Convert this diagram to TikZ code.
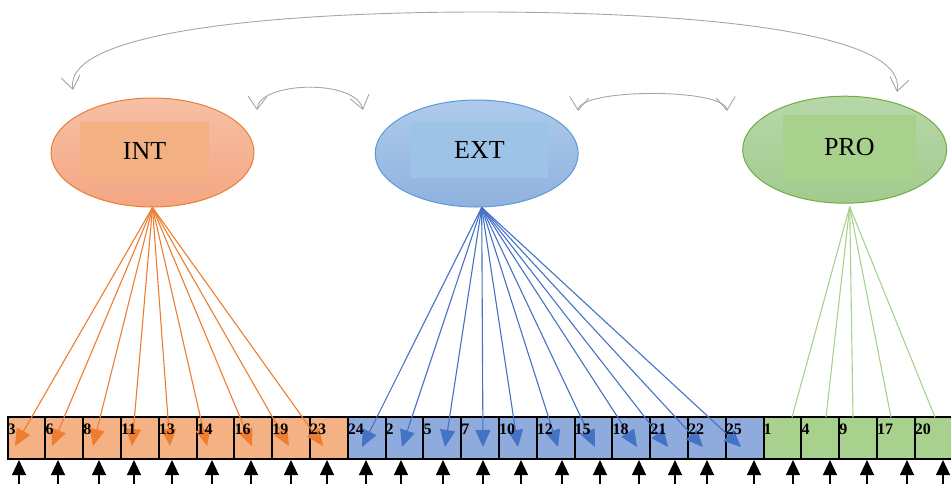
\documentclass[tikz,border=0pt]{standalone}
\usepackage{fontspec}
\setmainfont{Liberation Serif}
\usetikzlibrary{shapes.geometric,arrows.meta,calc}
\definecolor{intline}{HTML}{ED7D31}
\definecolor{extline}{HTML}{4472C4}
\definecolor{proline}{HTML}{A9D18E}
\definecolor{intfill}{HTML}{F4B183}
\definecolor{extfill}{HTML}{8FAADC}
\definecolor{profill}{HTML}{A9D18E}
\definecolor{inttop}{HTML}{F6C0A6}
\definecolor{intbot}{HTML}{F4A683}
\definecolor{exttop}{HTML}{AECAEB}
\definecolor{extbot}{HTML}{8FB2DE}
\definecolor{protop}{HTML}{B7D7A9}
\definecolor{probot}{HTML}{A2CB8D}
\definecolor{intrect}{HTML}{F3B183}
\definecolor{extrect}{HTML}{9DC3E6}
\definecolor{prorect}{HTML}{A9D18E}
\definecolor{intedge}{HTML}{ED7D31}
\definecolor{extedge}{HTML}{5B9BD5}
\definecolor{proedge}{HTML}{70AD47}
\definecolor{covgray}{HTML}{A6A6A6}
\begin{document}
\begin{tikzpicture}[x=1pt,y=-1pt,
  box/.style={draw=black, line width=2pt, minimum width=37.8pt, minimum height=41.7pt, inner sep=0pt},
  numlbl/.style={font=\fontsize{16}{16}\selectfont\bfseries, inner sep=0pt, anchor=base west},
  err/.style={draw=black, line width=1.3pt, -{Triangle[length=15pt,width=14pt]}},
  intload/.style={draw=intline, line width=1.1pt, -{Triangle[length=17pt,width=15pt]}},
  extload/.style={draw=extline, line width=1.1pt, -{Triangle[length=17pt,width=15pt]}},
  proload/.style={draw=proline, line width=1.1pt},
  cov/.style={draw=covgray, line width=0.9pt, {Straight Barb[length=13pt,width=19pt]}-{Straight Barb[length=13pt,width=19pt]}},
  lat/.style={ellipse, line width=1pt, inner sep=0pt},
  lbl/.style={inner sep=0pt, font=\fontsize{26}{30}\selectfont}
]
\useasboundingbox (0,0) rectangle (951,483);
\clip (0,0) rectangle (951,483);

% latent variables
\node[lat, draw=intedge, top color=inttop, bottom color=intbot, minimum width=203pt, minimum height=109pt] (INT) at (152.5,152.5) {};
\node[lbl, fill=intrect, minimum width=129pt, minimum height=57.6pt] (INTl) at (144.5,150.5) {INT};
\node[lat, draw=extedge, top color=exttop, bottom color=extbot, minimum width=203pt, minimum height=107pt] (EXT) at (476.7,153.5) {};
\node[lbl, fill=extrect, minimum width=137.6pt, minimum height=56.6pt] (EXTl) at (479.5,150) {EXT};
\node[lat, draw=proedge, top color=protop, bottom color=probot, minimum width=204pt, minimum height=107pt] (PRO) at (844.7,149.7) {};
\node[lbl, fill=prorect, minimum width=133.3pt, minimum height=64.4pt] (PROl) at (849.3,147.5) {PRO};

\coordinate (INTo) at (INT.south);
\coordinate (EXTo) at ($(EXT.south)+(5,0)$);
\coordinate (PROo) at ($(PRO.south)+(5,3)$);

% indicator boxes
\foreach \lab [count=\i from 0] in {3,6,8,11,13,14,16,19,23}
  \node[box, fill=intfill] (b\lab) at ({7.5+37.8*\i+18.9},438.2) {};
\foreach \lab [count=\i from 9] in {24,2,5,7,10,12,15,18,21,22,25}
  \node[box, fill=extfill] (b\lab) at ({7.5+37.8*\i+18.9},438.2) {};
\foreach \lab [count=\i from 20] in {1,4,9,17,20}
  \node[box, fill=profill] (b\lab) at ({7.5+37.8*\i+18.9},438.2) {};

% loadings
\foreach \lab/\tx in {3/15,6/52,8/93,11/132,13/170,14/207,16/252,19/289,23/323}{
  \coordinate (t\lab) at (\tx,446);
  \draw[intload] (INTo) -- (t\lab);
}
\foreach \lab/\tx in {24/362,2/402,5/445,7/483,10/518,12/558,15/595,18/637,21/668,22/703,25/741}{
  \coordinate (t\lab) at (\tx,447);
  \draw[extload] (EXTo) -- (t\lab);
}
\foreach \lab/\tx in {1/792,4/826,9/853,17/891,20/935}{
  \coordinate (t\lab) at (\tx,417.3);
  \draw[proload] (PROo) -- (t\lab);
}

% labels
\foreach \lab in {3,6,8,11,13,14,16,19,23,24,2,5,7,10,12,15,18,21,22,25,1,4,9,17,20}
  \node[numlbl] (l\lab) at ($(b\lab.north west)+(1,17.7)$) {\lab};

% error arrows
\foreach \lab/\ex in {3/19,6/58,8/99,11/134,13/172,14/212,16/251,19/291,23/327,24/366,2/401,5/443,7/483,10/521,12/562,15/600,18/639,21/675,22/707,25/754,1/793,4/830,9/867,17/907,20/943}{
  \coordinate (e\lab) at (\ex,486);
  \draw[err] (e\lab) -- (e\lab |- b\lab.south);
}

% covariances
\coordinate (cIL) at ($(INT.center)+(-79.5,-62.5)$);
\coordinate (cPR) at ($(PRO.center)+(52.3,-57.7)$);
\draw[cov] (cIL) .. controls (62,28) and (300,12) .. (480,12) .. controls (700,12) and (908,32) .. (cPR);
\coordinate (cIE1) at ($(INT.center)+(104.5,-42.5)$);
\coordinate (cIE2) at ($(EXT.center)+(-113.7,-43.5)$);
\draw[cov] (cIE1) .. controls (258,82) and (355,78) .. (cIE2);
\coordinate (cEP1) at ($(EXT.center)+(101.3,-42.5)$);
\coordinate (cEP2) at ($(PRO.center)+(-117.7,-38.7)$);
\draw[cov] (cEP1) .. controls (580,88) and (725,88) .. (cEP2);
\end{tikzpicture}
\end{document}
